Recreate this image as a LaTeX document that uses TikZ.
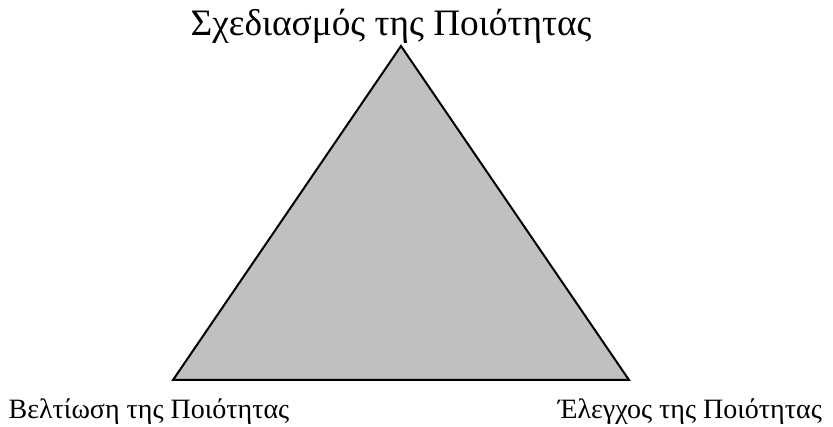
\documentclass[tikz,border=0pt]{standalone}
\usepackage{fontspec}
\setmainfont{Liberation Serif}
\usetikzlibrary{positioning}

\begin{document}
\begin{tikzpicture}[x=0.75pt, y=-0.75pt, every node/.style={inner sep=0pt, font=\fontsize{21}{25}\selectfont}]

        \useasboundingbox (0, 0) rectangle (833, 427);

        \coordinate (top) at (401, 46);
        \coordinate (left) at (173, 380);
        \coordinate (right) at (629, 380);

        \filldraw[fill={rgb,255:red,192;green,192;blue,192}, line width=1.5pt, line join=miter] (top) -- (left) -- (right) -- cycle;

        \node[anchor=base, font=\fontsize{28}{34}\selectfont] (plan) at (391, 36) {Σχεδιασμός της Ποιότητας};
        \node[anchor=base] (impr) at (149, 419) {Βελτίωση της Ποιότητας};
        \node[anchor=base] (ctrl) at (690, 419) {Έλεγχος της Ποιότητας};

      \end{tikzpicture}
\end{document}
